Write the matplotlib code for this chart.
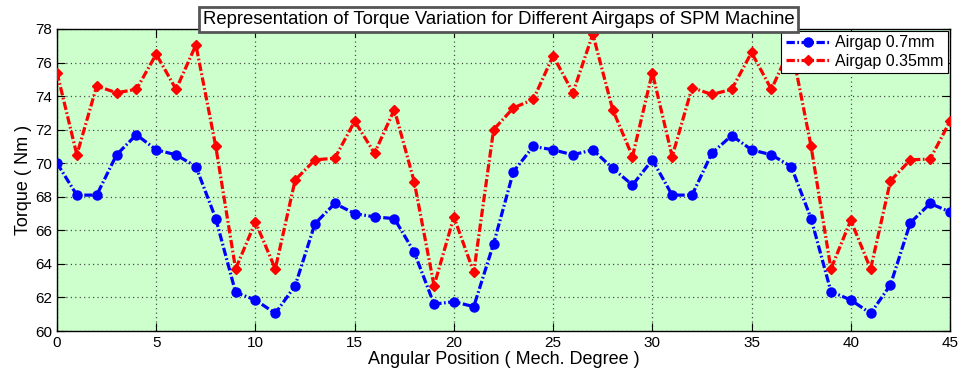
import numpy as np
import matplotlib
matplotlib.use('Agg')
import matplotlib.pyplot as plt

# torque vs rotor angle for the two airgaps
angle = np.arange(0, 46)

torque_07 = [70.0, 68.1, 68.1, 70.5, 71.7, 70.8, 70.5, 69.8, 66.7, 62.3,
             61.85, 61.05, 62.7, 66.4, 67.6, 67.0, 66.8, 66.7, 64.7, 61.6,
             61.75, 61.45, 65.2, 69.5, 71.0, 70.8, 70.5, 70.8, 69.7, 68.7,
             70.2, 68.1, 68.1, 70.6, 71.65, 70.8, 70.5, 69.8, 66.7, 62.35,
             61.85, 61.05, 62.75, 66.45, 67.6, 67.1]

torque_035 = [75.4, 70.5, 74.6, 74.2, 74.4, 76.5, 74.4, 77.05, 71.0, 63.7,
              66.5, 63.7, 69.0, 70.2, 70.3, 72.5, 70.6, 73.2, 68.9, 62.7,
              66.8, 63.5, 72.0, 73.3, 73.8, 76.4, 74.2, 77.7, 73.2, 70.4,
              75.4, 70.4, 74.5, 74.1, 74.4, 76.6, 74.4, 77.0, 71.0, 63.7,
              66.6, 63.7, 68.95, 70.2, 70.25, 72.5]

plt.rcParams['font.family'] = ['Liberation Sans', 'DejaVu Sans']
plt.rcParams['lines.scale_dashes'] = False

dashdot = (0, (6, 1.8, 1.2, 1.8))

fig = plt.figure(figsize=(9.63, 3.75), dpi=100)
ax = fig.add_axes([0.0592, 0.1173, 0.9273, 0.8054])
ax.set_facecolor('#ccffcc')

ax.plot(angle, torque_07, linestyle=dashdot, color='blue', lw=2.3, marker='o', ms=6,
        mfc='blue', mec='blue', mew=1.5, label='Airgap 0.7mm', zorder=3)
ax.plot(angle, torque_035, linestyle=dashdot, color='red', lw=2.3, marker='D', ms=5.5,
        mfc='red', mec='red', label='Airgap 0.35mm', zorder=3)

ax.set_xlim(0, 45)
ax.set_ylim(60, 78)
ax.set_xticks(np.arange(0, 46, 5))
ax.set_yticks(np.arange(60, 79, 2))
ax.tick_params(direction='in', top=True, right=True, labelsize=11, length=6)
ax.grid(True, linestyle=(0, (0.8, 2.4)), color='#404040', lw=0.9)
for s in ax.spines.values():
    s.set_linewidth(1.0)

ax.set_xlabel('Angular Position ( Mech. Degree )', fontsize=13, labelpad=1)
ax.set_ylabel('Torque ( Nm )', fontsize=13, labelpad=2)

leg = ax.legend(loc='upper right', fontsize=11.5, fancybox=False, framealpha=1,
                edgecolor='black', borderaxespad=0.1, handlelength=2.8,
                handletextpad=0.3, borderpad=0.3, labelspacing=0.2)
leg.get_frame().set_linewidth(0.8)

fig.text(0.5177, 0.949,
         'Representation of Torque Variation for Different Airgaps of SPM Machine',
         ha='center', va='center', fontsize=13.3,
         bbox=dict(boxstyle='square,pad=0.22', fc='white', ec='#555555', lw=2))

fig.savefig('out.png', dpi=100)
